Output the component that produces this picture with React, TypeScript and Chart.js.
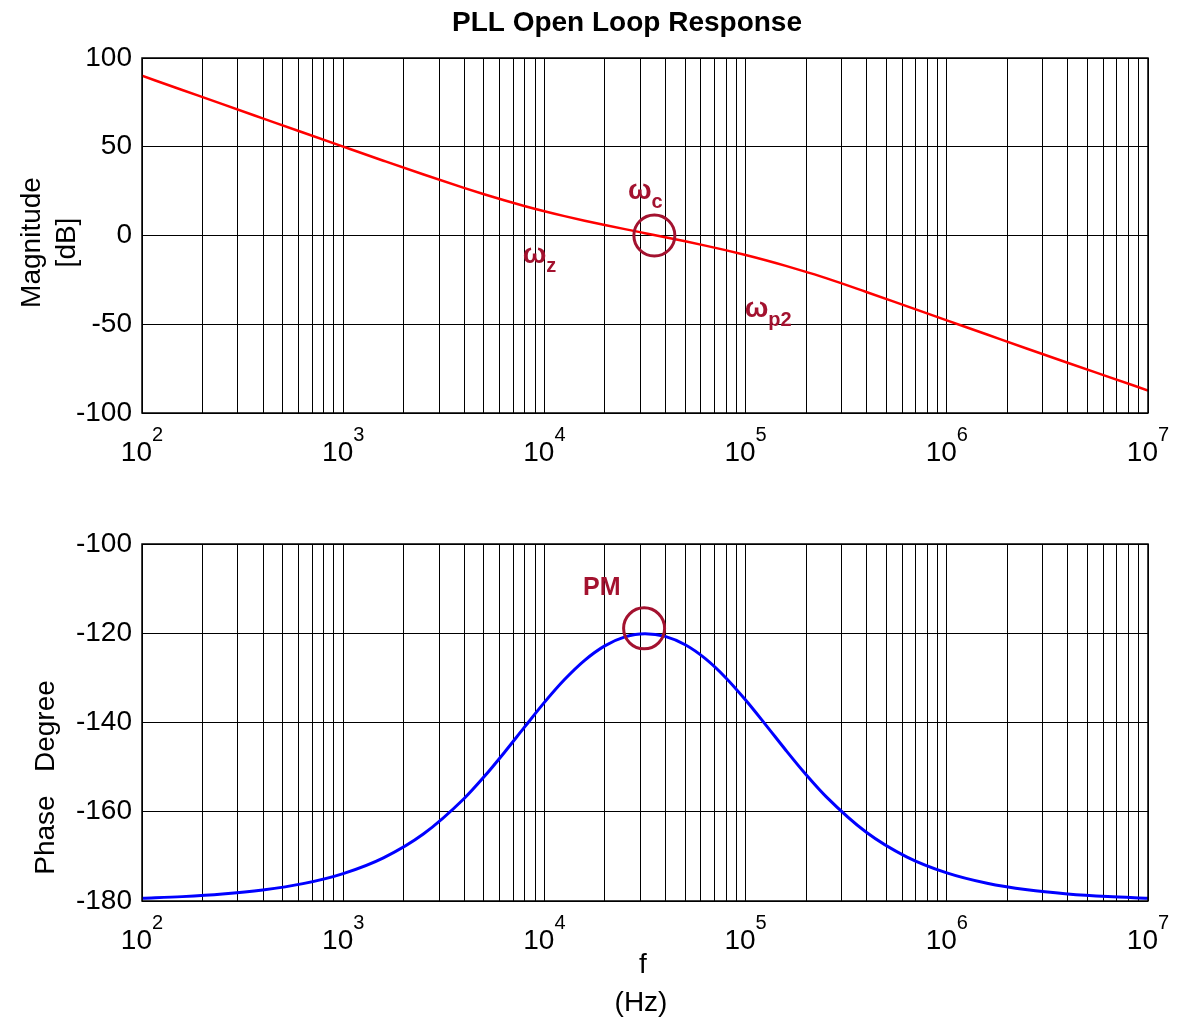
import React, { useEffect, useRef } from "react";
import { Chart, registerables } from "chart.js";

Chart.register(...registerables);

// ---------- data ----------
const frequencyHz = [
  100, 158.5, 251.2, 398.1, 631, 1000, 1585, 2512, 3981, 5012, 6310, 7943,
  10000, 12589, 15849, 19953, 25119, 31623, 39811, 50119, 63096, 79433,
  100000, 125893, 158489, 199526, 251189, 398107, 630957, 1000000, 1585000,
  2512000, 3981000, 6310000, 10000000,
];
const magnitudeDb = [
  90.0, 82.0, 74.0, 66.01, 58.02, 50.06, 42.14, 34.35, 26.84, 23.26, 19.86,
  16.66, 13.68, 10.93, 8.36, 5.93, 3.6, 1.32, -0.95, -3.27, -5.69, -8.24,
  -10.98, -13.93, -17.11, -20.49, -24.0, -31.8, -39.8, -47.8, -55.8,
  -63.8, -71.7, -79.5, -87.3,
];
const phaseDeg = [
  -179.38, -179.02, -178.45, -177.54, -176.11, -173.85, -170.32, -164.93,
  -157.08, -152.18, -146.77, -141.1, -135.49, -130.38, -126.07, -122.83,
  -120.82, -120.09, -120.69, -122.58, -125.69, -129.9, -134.96, -140.52,
  -146.21, -151.66, -156.61, -164.6, -170.1, -173.7, -176.02, -177.49,
  -178.41, -179.0, -179.37,
];

const decadeExponents = [2, 3, 4, 5, 6, 7];
const minorMultipliers = [1, 2, 3, 4, 5, 6, 7, 8, 9];
const magnitudeTicks = [-100, -50, 0, 50, 100];
const phaseTicks = [-180, -160, -140, -120, -100];

const chartTitle = "PLL Open Loop Response";
const magTitleLines = ["Magnitude", "[dB]"];
const phaseTitle = "Phase   Degree";
const xTitleLines = ["f", "(Hz)"];

// annotations: [main, subscript, frequency, value]
const magLabels: [string, string, number, number][] = [
  ["\u03c9", "c", 26000, 20.7],
  ["\u03c9", "z", 7800, -15.3],
  ["\u03c9", "p2", 99000, -45.7],
];
const magCircle = { f: 35200, v: 0 };
const phaseLabels: [string, string, number, number][] = [["PM", "", 15560, -111.4]];
const phaseCircle = { f: 31300, v: -118.9 };

// ---------- styling ----------
const FONT = '"Liberation Sans", Arial, Helvetica, sans-serif';
const MAROON = "#a3122f";
const W = 1188;
const TOP_H = 490;
const BOT_H = 529;

const xTickValues: number[] = [];
for (const e of decadeExponents.slice(0, -1)) {
  for (const m of minorMultipliers) xTickValues.push(m * Math.pow(10, e));
}
xTickValues.push(Math.pow(10, decadeExponents[decadeExponents.length - 1]));

type Extra = {
  yTicks: number[];
  min: number;
  max: number;
  padTop: number;
  xAxisH: number;
  draw: (chart: any) => void;
};

function drawCommon(chart: any) {
  const { ctx, chartArea } = chart;
  const xs = chart.scales.x;
  ctx.save();
  ctx.strokeStyle = "#000";
  ctx.lineWidth = 1.5;
  ctx.strokeRect(
    chartArea.left,
    chartArea.top,
    chartArea.right - chartArea.left,
    chartArea.bottom - chartArea.top
  );
  ctx.fillStyle = "#000";
  ctx.textBaseline = "alphabetic";
  ctx.textAlign = "left";
  for (const e of decadeExponents) {
    const px = xs.getPixelForValue(Math.pow(10, e));
    ctx.font = `28px ${FONT}`;
    const w1 = ctx.measureText("10").width;
    ctx.font = `20px ${FONT}`;
    const w2 = ctx.measureText(String(e)).width;
    const start = px - (w1 + w2) / 2;
    ctx.font = `28px ${FONT}`;
    ctx.fillText("10", start, chartArea.bottom + 48);
    ctx.font = `20px ${FONT}`;
    ctx.fillText(String(e), start + w1, chartArea.bottom + 28);
  }
  ctx.restore();
}

function drawAnnotations(
  chart: any,
  labels: [string, string, number, number][],
  circle: { f: number; v: number },
  mainSize: number
) {
  const { ctx } = chart;
  const xs = chart.scales.x;
  const ys = chart.scales.y;
  ctx.save();
  ctx.fillStyle = MAROON;
  ctx.strokeStyle = MAROON;
  ctx.textAlign = "left";
  ctx.textBaseline = "alphabetic";
  for (const [main, sub, f, v] of labels) {
    const x = xs.getPixelForValue(f);
    const y = ys.getPixelForValue(v);
    ctx.font = `bold ${mainSize}px ${FONT}`;
    ctx.fillText(main, x, y);
    const w = ctx.measureText(main).width;
    if (sub) {
      ctx.font = `bold 20px ${FONT}`;
      ctx.fillText(sub, x + w, y + 9);
    }
  }
  ctx.lineWidth = 3;
  ctx.beginPath();
  ctx.arc(xs.getPixelForValue(circle.f), ys.getPixelForValue(circle.v), 20.5, 0, Math.PI * 2);
  ctx.stroke();
  ctx.restore();
}

function makeChart(
  canvas: HTMLCanvasElement,
  values: number[],
  color: string,
  width: number,
  extra: Extra
) {
  return new Chart(canvas, {
    type: "line",
    data: {
      datasets: [
        {
          data: frequencyHz.map((f, i) => ({ x: f, y: values[i] })),
          borderColor: color,
          borderWidth: width,
          pointRadius: 0,
          cubicInterpolationMode: "monotone",
          fill: false,
        },
      ],
    },
    options: {
      responsive: false,
      animation: false,
      devicePixelRatio: 1,
      layout: { padding: { left: 0, right: 40, top: extra.padTop, bottom: 0 } },
      plugins: {
        legend: { display: false },
        tooltip: { enabled: false },
        title: { display: false },
      },
      scales: {
        x: {
          type: "logarithmic",
          min: 100,
          max: 1e7,
          afterBuildTicks: (s: any) => {
            s.ticks = xTickValues.map((v) => ({ value: v }));
          },
          afterFit: (s: any) => {
            s.height = extra.xAxisH;
          },
          ticks: { display: false, autoSkip: false },
          grid: { color: "#000", lineWidth: 1, drawTicks: false },
          border: { display: false },
        },
        y: {
          type: "linear",
          min: extra.min,
          max: extra.max,
          afterBuildTicks: (s: any) => {
            s.ticks = extra.yTicks.map((v) => ({ value: v }));
          },
          afterFit: (s: any) => {
            s.width = 142;
          },
          ticks: {
            autoSkip: false,
            color: "#000",
            padding: 10,
            font: { family: FONT, size: 28 },
          },
          grid: { color: "#000", lineWidth: 1, drawTicks: false },
          border: { display: false },
        },
      },
    } as any,
    plugins: [
      {
        id: "extras",
        afterDraw: (chart: any) => {
          drawCommon(chart);
          extra.draw(chart);
        },
      },
    ],
  });
}

export default function App() {
  const topRef = useRef<HTMLCanvasElement>(null);
  const botRef = useRef<HTMLCanvasElement>(null);

  useEffect(() => {
    const top = makeChart(topRef.current!, magnitudeDb, "#ff0000", 2.5, {
      yTicks: magnitudeTicks,
      min: -100,
      max: 100,
      padTop: 58,
      xAxisH: TOP_H - 413,
      draw: (chart: any) => {
        const { ctx, chartArea } = chart;
        ctx.save();
        ctx.fillStyle = "#000";
        ctx.textAlign = "center";
        ctx.textBaseline = "alphabetic";
        ctx.font = `bold 28px ${FONT}`;
        ctx.fillText(chartTitle, (chartArea.left + chartArea.right) / 2 - 18, 31);
        ctx.font = `28px ${FONT}`;
        const cy = (chartArea.top + chartArea.bottom) / 2 + 7;
        const baselines = [40, 75];
        magTitleLines.forEach((line, i) => {
          ctx.save();
          ctx.translate(baselines[i], cy);
          ctx.rotate(-Math.PI / 2);
          ctx.fillText(line, 0, 0);
          ctx.restore();
        });
        ctx.restore();
        drawAnnotations(chart, magLabels, magCircle, 28);
      },
    });
    const bot = makeChart(botRef.current!, phaseDeg, "#0000ff", 3, {
      yTicks: phaseTicks,
      min: -180,
      max: -100,
      padTop: 54,
      xAxisH: BOT_H - 411,
      draw: (chart: any) => {
        const { ctx, chartArea } = chart;
        ctx.save();
        ctx.fillStyle = "#000";
        ctx.textBaseline = "alphabetic";
        ctx.textAlign = "center";
        ctx.font = `28px ${FONT}`;
        const cy = (chartArea.top + chartArea.bottom) / 2 + 55;
        ctx.save();
        ctx.translate(54, cy);
        ctx.rotate(-Math.PI / 2);
        ctx.fillText(phaseTitle, 0, 0);
        ctx.restore();
        const cx = (chartArea.left + chartArea.right) / 2 - 4;
        ctx.fillText(xTitleLines[0], cx + 2, chartArea.bottom + 72);
        ctx.fillText(xTitleLines[1], cx, chartArea.bottom + 110);
        ctx.restore();
        drawAnnotations(chart, phaseLabels, phaseCircle, 25);
      },
    });
    return () => {
      top.destroy();
      bot.destroy();
    };
  }, []);

  return (
    <div style={{ position: "absolute", left: 0, top: 0, width: W, height: TOP_H + BOT_H, background: "#fff" }}>
      <canvas
        ref={topRef}
        width={W}
        height={TOP_H}
        style={{ position: "absolute", left: 0, top: 0, width: W, height: TOP_H, display: "block" }}
      />
      <canvas
        ref={botRef}
        width={W}
        height={BOT_H}
        style={{ position: "absolute", left: 0, top: TOP_H, width: W, height: BOT_H, display: "block" }}
      />
    </div>
  );
}
